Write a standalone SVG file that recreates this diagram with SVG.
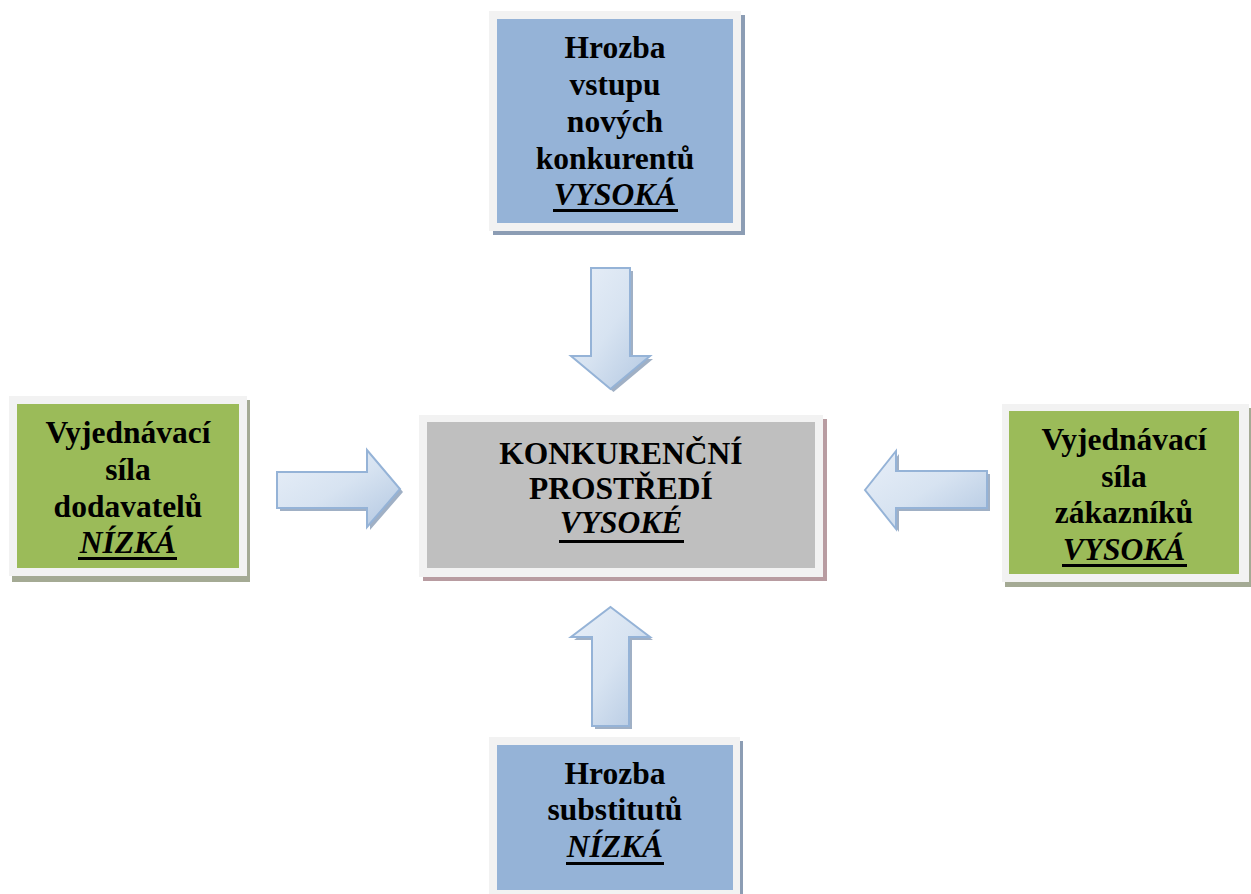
<svg xmlns="http://www.w3.org/2000/svg" width="1251" height="894" viewBox="0 0 1251 894">
  <style>
    .frame { fill: #f2f2f2; }
    .blue { fill: #95b3d7; }
    .green { fill: #9bbb59; }
    .grey { fill: #bfbfbf; }
    .sh-blue { fill: #8c9db4; }
    .sh-green { fill: #a4aa94; }
    .sh-red { fill: #b89ca1; }
    .lbl { font-family: "Liberation Serif", "Times New Roman", serif; font-weight: bold; font-size: 31.5px; fill: #000; text-anchor: middle; }
    .em { font-style: italic; }
    .ul { fill: #000; }
    .arrow { fill: url(#arrowFill); stroke: #95b3d7; stroke-width: 2; stroke-linejoin: miter; }
    .arrow-sh { fill: #8fa2bb; opacity: 0.85; }
  </style>
  <defs>
    <linearGradient id="arrowFill" x1="0" y1="0" x2="1" y2="1">
      <stop offset="0" stop-color="#e8eff8"/>
      <stop offset="0.5" stop-color="#d7e3f1"/>
      <stop offset="1" stop-color="#b2c7e1"/>
    </linearGradient>
  </defs>

  <rect width="1251" height="894" fill="#ffffff"/>

  <!-- connectors: four block arrows pointing at the centre -->
  <g id="connectors">
    <g id="arrow-top">
      <path class="arrow-sh" d="M594,271 H633 V359 H653 L613.5,392 L574,359 H594 Z"/>
      <path class="arrow" d="M591,268 H630 V356 H650 L610.5,389 L571,356 H591 Z"/>
    </g>
    <g id="arrow-bottom">
      <path class="arrow-sh" d="M613.5,610 L653,640 H632 V729 H595 V640 H574 Z"/>
      <path class="arrow" d="M610.5,607 L650,637 H629 V726 H592 V637 H571 Z"/>
    </g>
    <g id="arrow-left">
      <path class="arrow-sh" d="M280,475 H370 V453 L403,492 L370,530 V511 H280 Z"/>
      <path class="arrow" d="M277,472 H367 V450 L400,489 L367,527 V508 H277 Z"/>
    </g>
    <g id="arrow-right">
      <path class="arrow-sh" d="M868,493 L899,454 V474 H990 V511 H899 V532 Z"/>
      <path class="arrow" d="M865,490 L896,451 V471 H987 V508 H896 V529 Z"/>
    </g>
  </g>

  <!-- new entrants (top) -->
  <g id="node-top">
    <rect class="sh-blue" x="493" y="15" width="252" height="220"/>
    <rect class="frame" x="489" y="11" width="252" height="220"/>
    <rect class="blue" x="497" y="19" width="236" height="204"/>
    <text class="lbl" x="615" y="58">Hrozba</text>
    <text class="lbl" x="615" y="95">vstupu</text>
    <text class="lbl" x="615" y="132">nových</text>
    <text class="lbl" x="615" y="168.5">konkurentů</text>
    <text class="lbl em" x="615" y="205">VYSOKÁ</text>
    <rect class="ul" x="553" y="209" width="125" height="3"/>
  </g>

  <!-- competitive environment (centre) -->
  <g id="node-center">
    <rect class="sh-red" x="423" y="419" width="404" height="162"/>
    <rect class="frame" x="419" y="415" width="404" height="162"/>
    <rect class="grey" x="427" y="422" width="388" height="146"/>
    <text class="lbl" x="621" y="464">KONKURENČNÍ</text>
    <text class="lbl" x="621" y="498.5">PROSTŘEDÍ</text>
    <text class="lbl em" x="621" y="533">VYSOKÉ</text>
    <rect class="ul" x="559" y="540" width="125" height="3"/>
  </g>

  <!-- supplier power (left) -->
  <g id="node-left">
    <rect class="sh-green" x="12" y="400" width="238" height="182"/>
    <rect class="frame" x="9" y="396" width="238" height="180"/>
    <rect class="green" x="17" y="404" width="222" height="164"/>
    <text class="lbl" x="128" y="443">Vyjednávací</text>
    <text class="lbl" x="128" y="480">síla</text>
    <text class="lbl" x="128" y="517">dodavatelů</text>
    <text class="lbl em" x="128" y="553">NÍZKÁ</text>
    <rect class="ul" x="78" y="557" width="99" height="3"/>
  </g>

  <!-- customer power (right) -->
  <g id="node-right">
    <rect class="sh-green" x="1005" y="408" width="250" height="179"/>
    <rect class="frame" x="1002" y="404" width="247" height="178"/>
    <rect class="green" x="1009" y="411" width="230" height="163"/>
    <text class="lbl" x="1124" y="450">Vyjednávací</text>
    <text class="lbl" x="1124" y="487">síla</text>
    <text class="lbl" x="1124" y="523">zákazníků</text>
    <text class="lbl em" x="1124" y="560">VYSOKÁ</text>
    <rect class="ul" x="1062" y="564" width="125" height="3"/>
  </g>

  <!-- substitutes (bottom) -->
  <g id="node-bottom">
    <rect class="sh-blue" x="492" y="741" width="251" height="160"/>
    <rect class="frame" x="489" y="737" width="251" height="160"/>
    <rect class="blue" x="497" y="745" width="236" height="145"/>
    <text class="lbl" x="615" y="784">Hrozba</text>
    <text class="lbl" x="615" y="820">substitutů</text>
    <text class="lbl em" x="615" y="857">NÍZKÁ</text>
    <rect class="ul" x="566" y="862" width="98" height="3"/>
  </g>
</svg>
